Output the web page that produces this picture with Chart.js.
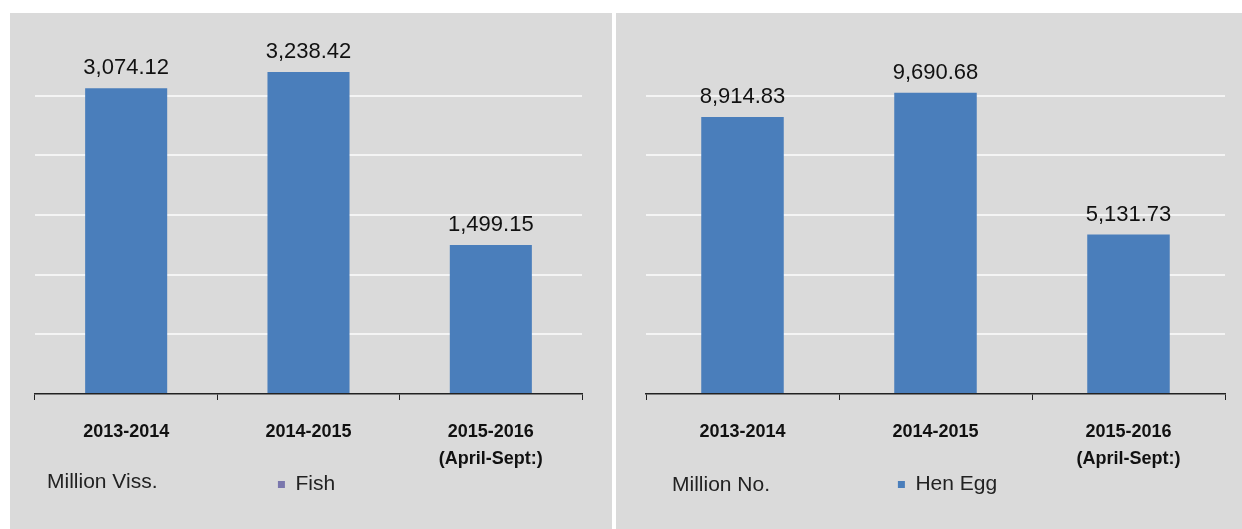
<!DOCTYPE html>
<html>
<head>
<meta charset="utf-8">
<script src="https://cdn.jsdelivr.net/npm/chart.js@4"></script>
<style>
  body{margin:0;background:#fff;width:1242px;height:529px;overflow:hidden;font-family:"Liberation Sans",Arial,sans-serif;}
  .panel{position:absolute;top:13px;height:516px;background:#dadada;}
  #p1{left:10px;width:602px;}
  #p2{left:616px;width:626px;}
  .unit{position:absolute;font-size:21px;color:#222;}
</style>
</head>
<body>
<div class="panel" id="p1"><canvas id="fish"></canvas><div class="unit" style="left:37px;top:456px">Million Viss.</div></div>
<div class="panel" id="p2"><canvas id="egg"></canvas><div class="unit" style="left:56px;top:459px">Million No.</div></div>
<script>
// DATA
let years=["2013-2014","2014-2015",["2015-2016","(April-Sept:)"]];
let fish=[3074.12,3238.42,1499.15];
let henEgg=[8914.83,9690.68,5131.73];
// hidden value axis (no tick labels in the picture)
let fishAxis={max:3600,step:600,lastGrid:3000};
let eggAxis={max:11520,step:1920,lastGrid:9600};

let barColor="#4a7ebb";
let font='"Liberation Sans", Arial, sans-serif';

// value labels above bars
let valueLabels={
  id:"valueLabels",
  afterDatasetsDraw(chart){
    let ctx=chart.ctx;
    let meta=chart.getDatasetMeta(0);
    ctx.save();
    ctx.font="22px "+font;
    ctx.fillStyle="#111";
    ctx.textAlign="center";
    ctx.textBaseline="alphabetic";
    meta.data.forEach((bar,i)=>{
      let v=chart.data.datasets[0].data[i];
      let txt=v.toLocaleString("en-US",{minimumFractionDigits:2,maximumFractionDigits:2});
      ctx.fillText(txt,bar.x,bar.y-14);
    });
    ctx.restore();
  }
};

// nudge legend sideways
let legendShift={
  id:"legendShift",
  afterLayout(chart,args,opts){
    let lg=chart.legend;
    if(!lg||!opts.dx) return;
    lg.left+=opts.dx; lg.right+=opts.dx;
    (lg.legendHitBoxes||[]).forEach(b=>b.left+=opts.dx);
  }
};

function makeChart(id,label,values,axis,legendColor,pad){
  let el=document.getElementById(id);
  let p=el.parentNode;
  el.width=p.offsetWidth; el.height=p.offsetHeight;
  return new Chart(el,{
    type:"bar",
    data:{labels:years,datasets:[{label,data:values,backgroundColor:barColor,barPercentage:0.9,categoryPercentage:pad.cat}]},
    options:{
      responsive:false,animation:false,
      layout:{padding:{left:pad.left,right:pad.right,top:23,bottom:24}},
      plugins:{
        tooltip:{enabled:false},
        legendShift:{dx:pad.dx},
        legend:{
          position:"bottom",
          labels:{
            font:{family:font,size:21},color:"#222",boxWidth:7,boxHeight:7,padding:6,
            generateLabels:c=>[{text:label,fillStyle:legendColor,strokeStyle:legendColor,lineWidth:0,fontColor:"#222"}]
          }
        }
      },
      scales:{
        x:{
          grid:{display:true,drawOnChartArea:false,color:"#222",tickLength:6,offset:true},
          border:{display:true,color:"#222",width:1.5},
          ticks:{font:{family:font,size:18,weight:"bold",lineHeight:1.5},color:"#111",padding:19},
          afterFit:s=>{s.height=74;}
        },
        y:{
          min:0,max:axis.max,
          ticks:{display:false,stepSize:axis.step},
          border:{display:false},
          grid:{drawTicks:false,lineWidth:2,color:c=>(c.tick.value>0&&c.tick.value<=axis.lastGrid)?"#f4f4f4":"rgba(0,0,0,0)"}
        }
      }
    },
    plugins:[valueLabels,legendShift]
  });
}

makeChart("fish","Fish",fish,fishAxis,"#7a77ad",{left:25,right:30,cat:0.5,dx:-2});
makeChart("egg","Hen Egg",henEgg,eggAxis,"#4a7ebb",{left:30,right:17,cat:0.475,dx:12});
</script>
</body>
</html>
